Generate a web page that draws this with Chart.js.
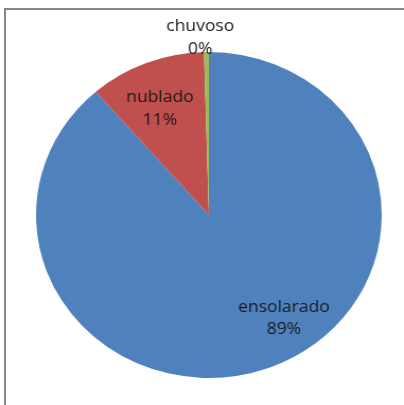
<!DOCTYPE html>
<html>
<head>
<meta charset="utf-8">
<script src="https://cdn.jsdelivr.net/npm/chart.js@4"></script>
<style>
  html, body { margin: 0; padding: 0; background: #fff; overflow: hidden; }
  #frame { position: absolute; left: 4px; top: 8px; width: 420px; height: 420px;
           border-top: 2px solid #878787; border-left: 2px solid #878787; }
  /* the original picture is a bit wider than tall, so stretch the pie like it */
  #wrap { position: absolute; left: 0; top: 0; width: 381px; height: 405px;
          transform: scaleX(1.0604); transform-origin: 0 0; }
</style>
</head>
<body>
<div id="frame"></div>
<div id="wrap"><canvas id="myChart"></canvas></div>
<script>
// data
const categories = ['ensolarado', 'nublado', 'chuvoso'];
const values = [88.65, 10.9, 0.45];
const colors = ['#4F81BD', '#C0504D', '#9BBB59'];

// where each label block sits, as a fraction of the radius from the pie centre
const labelOffsets = [[0.434, 0.66], [-0.283, -0.625], [-0.05, -1.06]];

const total = values.reduce((a, b) => a + b, 0);

// draws "name / xx%" labels like Excel does
const pieLabels = {
  id: 'pieLabels',
  afterDatasetsDraw(chart) {
    const ctx = chart.ctx;
    const arcs = chart.getDatasetMeta(0).data;
    ctx.save();
    ctx.fillStyle = '#1a1a1a';
    ctx.font = '16.5px "Open Sans"';
    ctx.textAlign = 'center';
    ctx.textBaseline = 'alphabetic';
    arcs.forEach((arc, i) => {
      const r = arc.outerRadius;
      const x = arc.x + labelOffsets[i][0] * r;
      const y = arc.y + labelOffsets[i][1] * r;
      const pct = Math.round(values[i] / total * 100) + '%';
      ctx.fillText(categories[i], x, y - 11);
      ctx.fillText(pct, x, y + 11.5);
    });
    ctx.restore();
  }
};

const ctx = document.getElementById('myChart').getContext('2d');
let myChart = new Chart(ctx, {
  type: 'pie',
  data: {
    labels: categories,
    datasets: [{
      data: values,
      backgroundColor: colors,
      borderWidth: 0
    }]
  },
  options: {
    responsive: true,
    maintainAspectRatio: false,
    animation: false,
    layout: { padding: { left: 34, right: 21, top: 52, bottom: 27 } },
    plugins: {
      legend: { display: false },
      tooltip: { enabled: false }
    }
  },
  plugins: [pieLabels]
});
</script>
</body>
</html>
